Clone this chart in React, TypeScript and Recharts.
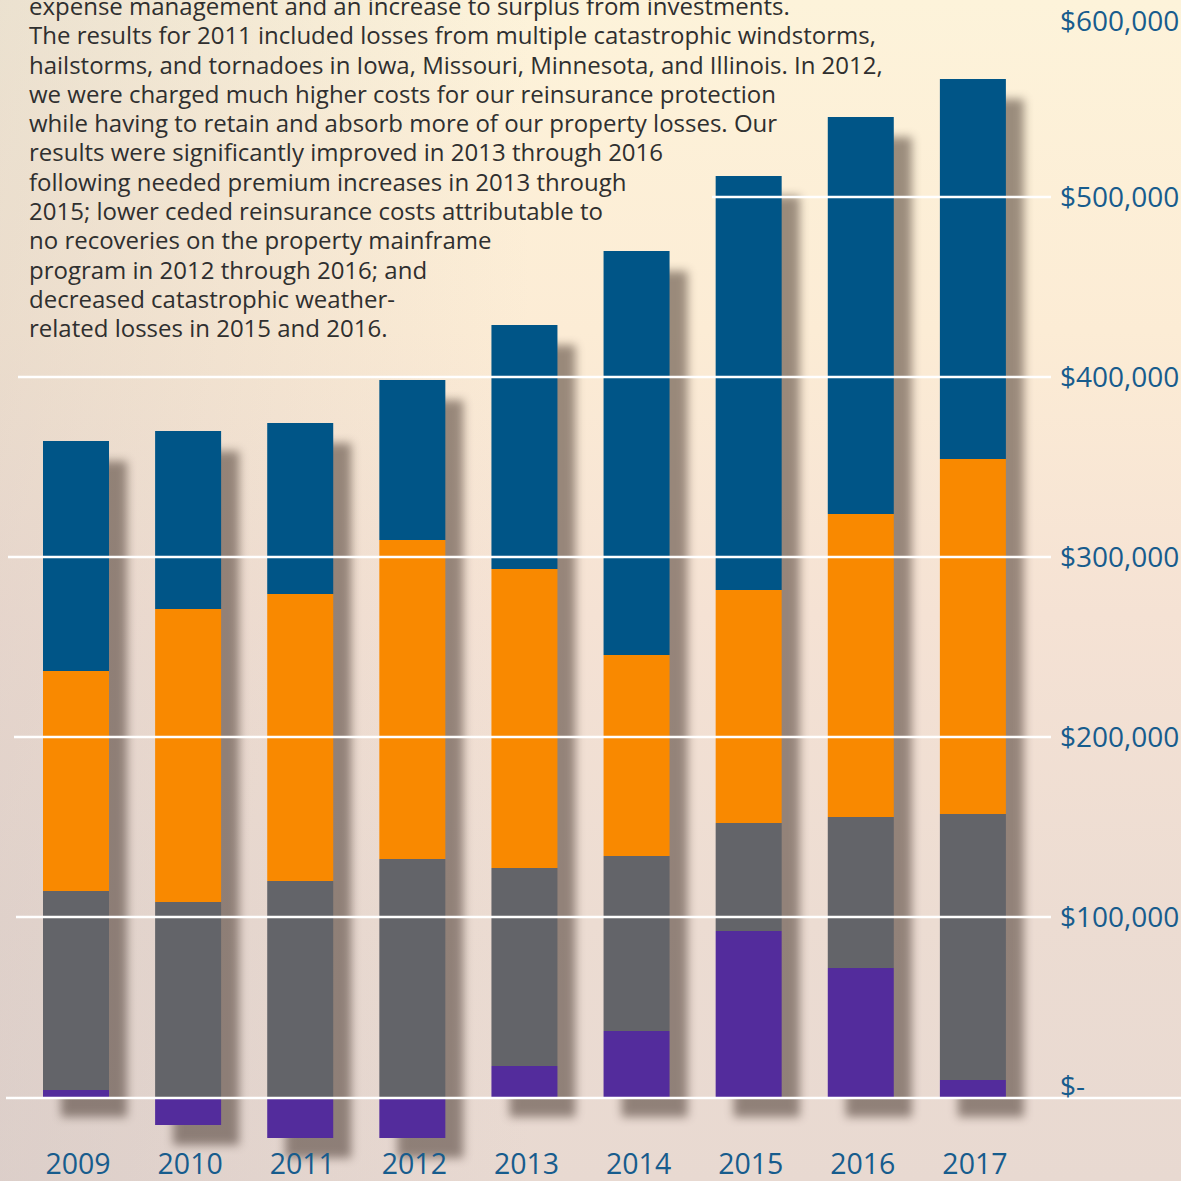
import React from "react";
import { BarChart, Bar, XAxis, YAxis } from "recharts";

const years = ["2009", "2010", "2011", "2012", "2013", "2014", "2015", "2016", "2017"];
// stack order bottom -> top
const purpleVals = [3900, -15600, -22800, -22800, 17200, 36700, 92200, 71700, 9400];
const grayVals = [110500, 108300, 120000, 132200, 110000, 97200, 60000, 83900, 147800];
const orangeVals = [122300, 162800, 159400, 177200, 166100, 111700, 129500, 168300, 197200];
const blueVals = [127700, 98900, 95000, 88900, 135600, 224400, 230000, 220500, 211200];

const yTicks = [0, 100000, 200000, 300000, 400000, 500000, 600000];
const yTickLabels = ["$-", "$100,000", "$200,000", "$300,000", "$400,000", "$500,000", "$600,000"];

const noteLines = [
  "expense management and an increase to surplus from investments.",
  "The results for 2011 included losses from multiple catastrophic windstorms,",
  "hailstorms, and tornadoes in Iowa, Missouri, Minnesota, and Illinois. In 2012,",
  "we were charged much higher costs for our reinsurance protection",
  "while having to retain and absorb more of our property losses. Our",
  "results were significantly improved in 2013 through 2016",
  "following needed premium increases in 2013 through",
  "2015; lower ceded reinsurance costs attributable to",
  "no recoveries on the property mainframe",
  "program in 2012 through 2016; and",
  "decreased catastrophic weather-",
  "related losses in 2015 and 2016.",
];

const COLORS = {
  purple: "#532c9c",
  gray: "#636469",
  orange: "#f98900",
  blue: "#005587",
};

const data = years.map((year, i) => {
  const parts = [purpleVals[i], grayVals[i], orangeVals[i], blueVals[i]];
  const pos = parts.filter((v) => v > 0).reduce((a, b) => a + b, 0);
  const neg = parts.filter((v) => v < 0).reduce((a, b) => a + b, 0);
  return {
    year,
    purple: purpleVals[i],
    gray: grayVals[i],
    orange: orangeVals[i],
    blue: blueVals[i],
    range: [neg, pos],
  };
});

const W = 1181;
const H = 1181;
const DOMAIN: [number, number] = [-25000, 600000];
const MARGIN = { top: 17, right: 152, left: 20, bottom: 0 };
const FONT = "'Open Sans', 'Noto Sans', sans-serif";
const AXIS_BLUE = "#175c8d";
// where each white gridline starts on the left (0 .. 500k)
const lineStarts = [6, 16, 14, 8, 18, 712];

function YearTick(props: any) {
  const { x, y, payload } = props;
  return (
    <text
      x={x + 2}
      y={y + 13}
      textAnchor="middle"
      dominantBaseline="central"
      fill={AXIS_BLUE}
      fontFamily={FONT}
      fontSize={28.5}
    >
      {payload.value}
    </text>
  );
}

function GridTick(props: any) {
  const { y, payload } = props;
  const idx = yTicks.indexOf(payload.value);
  const isZero = payload.value === 0;
  const isTop = idx === yTicks.length - 1;
  let labelY = y - 1;
  if (isZero) labelY = y - 12;
  if (isTop) labelY = y + 3;
  return (
    <g>
      {!isTop && (
        <line
          x1={lineStarts[idx]}
          x2={isZero ? W : 1051}
          y1={y + (isZero ? 1 : 0)}
          y2={y + (isZero ? 1 : 0)}
          stroke="#ffffff"
          strokeWidth={2.5}
        />
      )}
      <text
        x={1060}
        y={labelY}
        textAnchor="start"
        dominantBaseline="central"
        fill={AXIS_BLUE}
        fontFamily={FONT}
        fontSize={28}
      >
        {yTickLabels[idx]}
      </text>
    </g>
  );
}

const layer: React.CSSProperties = { position: "absolute", left: 0, top: 0 };

export default function App() {
  return (
    <div
      style={{
        position: "absolute",
        left: 0,
        top: 0,
        width: W,
        height: H,
        overflow: "hidden",
        background:
          "linear-gradient(to right, rgba(190,180,182,0.28) 0%, rgba(190,180,182,0) 45%), linear-gradient(to bottom, #fdf3da 0%, #fcecd5 28%, #f5e2d4 52%, #ecdcd2 78%, #e8d9d1 100%)",
      }}
    >
      {/* drop shadows behind the stacks */}
      <div style={{ ...layer, transform: "translate(18px, 20px)", filter: "blur(5px)", opacity: 0.5 }}>
        <BarChart width={W} height={H} data={data} margin={MARGIN}>
          <XAxis dataKey="year" height={39} axisLine={false} tickLine={false} tick={false} />
          <YAxis hide domain={DOMAIN} allowDataOverflow type="number" />
          <Bar dataKey="range" fill="#3a2a22" barSize={66} isAnimationActive={false} />
        </BarChart>
      </div>

      {/* stacked bars */}
      <div style={layer}>
        <BarChart width={W} height={H} data={data} margin={MARGIN} stackOffset="sign">
          <XAxis
            dataKey="year"
            height={39}
            axisLine={false}
            tickLine={false}
            tick={<YearTick />}
            interval={0}
          />
          <YAxis hide domain={DOMAIN} allowDataOverflow type="number" />
          <Bar dataKey="purple" stackId="s" fill={COLORS.purple} barSize={66} isAnimationActive={false} />
          <Bar dataKey="gray" stackId="s" fill={COLORS.gray} barSize={66} isAnimationActive={false} />
          <Bar dataKey="orange" stackId="s" fill={COLORS.orange} barSize={66} isAnimationActive={false} />
          <Bar dataKey="blue" stackId="s" fill={COLORS.blue} barSize={66} isAnimationActive={false} />
        </BarChart>
      </div>

      {/* gridlines and value labels drawn on top */}
      <div style={layer}>
        <BarChart width={W} height={H} data={data} margin={{ top: 17, right: 0, left: 0, bottom: 39 }}>
          <XAxis dataKey="year" hide />
          <YAxis
            orientation="right"
            mirror
            type="number"
            domain={DOMAIN}
            allowDataOverflow
            ticks={yTicks}
            interval={0}
            axisLine={false}
            tickLine={false}
            tick={<GridTick />}
          />
        </BarChart>
      </div>

      <div
        style={{
          position: "absolute",
          left: 29,
          top: -9,
          fontFamily: FONT,
          fontSize: 24,
          lineHeight: "29.3px",
          color: "#2f2f2f",
          whiteSpace: "nowrap",
        }}
      >
        {noteLines.map((l, i) => (
          <div key={i}>{l}</div>
        ))}
      </div>
    </div>
  );
}
